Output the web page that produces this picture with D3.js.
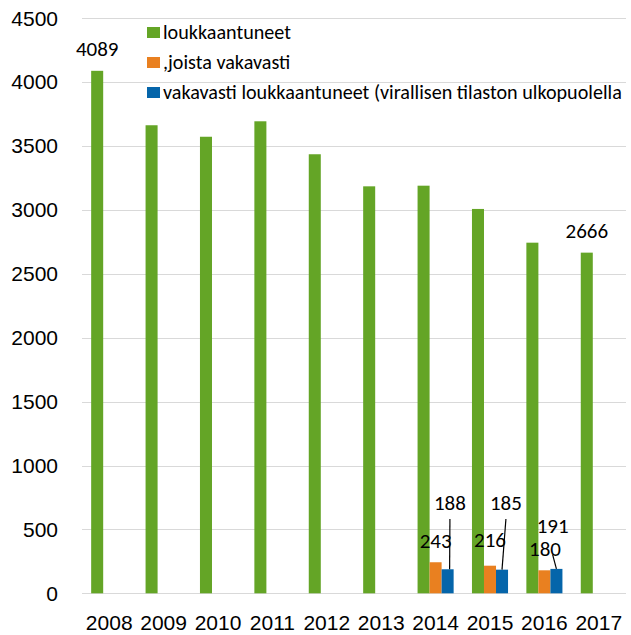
<!DOCTYPE html>
<html>
<head>
<meta charset="utf-8">
<script src="https://cdn.jsdelivr.net/npm/d3@7"></script>
<style>
  body { margin: 0; background: #fff; }
  svg { display: block; font-family: Carlito, Lato, "Open Sans", sans-serif; }
  .grid line { stroke: #d9d9d9; stroke-width: 1; }
  .tick text { fill: #000; }
</style>
</head>
<body>
<svg id="chart"></svg>
<script>
// Data
const years = ['2008', '2009', '2010', '2011', '2012', '2013', '2014', '2015', '2016', '2017'];
const seriesNames = ['loukkaantuneet', ',joista vakavasti', 'vakavasti loukkaantuneet (virallisen tilaston ulkopuolella'];
const injured = [4089, 3663, 3573, 3694, 3436, 3185, 3190, 3008, 2744, 2666];
const severe = [null, null, null, null, null, null, 243, 216, 180, null];
const severeOutside = [null, null, null, null, null, null, 188, 185, 191, null];
const yTicks = [0, 500, 1000, 1500, 2000, 2500, 3000, 3500, 4000, 4500];
const colors = ['#64a526', '#e98020', '#0565aa'];

// which injured values get a label
const injuredLabelled = ['2008', '2017'];

window.addEventListener('load', () => {
    const width = 631, height = 635;
    const plot = { left: 82, right: 626, top: 18.3, bottom: 593.3 };

    const svg = d3.select('#chart')
        .attr('width', width)
        .attr('height', height);

    // Scales
    const x0 = d3.scaleBand()
        .domain(years)
        .range([plot.left, plot.right])
        .padding(0);
    const gap = x0.bandwidth() * 0.337;
    const x1 = d3.scaleBand()
        .domain([0, 1, 2])
        .range([gap / 2, x0.bandwidth() - gap / 2])
        .padding(0);
    const y = d3.scaleLinear()
        .domain([0, 4500])
        .range([plot.bottom, plot.top]);

    // Gridlines
    svg.append('g')
        .attr('class', 'grid')
        .selectAll('line')
        .data(yTicks)
        .join('line')
        .attr('x1', plot.left)
        .attr('x2', plot.right)
        .attr('y1', d => Math.round(y(d)) + 0.5)
        .attr('y2', d => Math.round(y(d)) + 0.5);

    // Y axis
    const yAxis = d3.axisLeft(y).tickValues(yTicks).tickFormat(d3.format('d')).tickSize(0).tickPadding(0);
    svg.append('g')
        .attr('transform', `translate(58,0)`)
        .call(yAxis)
        .call(g => g.select('.domain').remove())
        .selectAll('text')
        .attr('font-size', 21)
        .attr('font-family', null);

    // X axis
    const xAxis = d3.axisBottom(x0).tickSize(0).tickPadding(0);
    svg.append('g')
        .attr('transform', `translate(0,${plot.bottom})`)
        .call(xAxis)
        .call(g => g.select('.domain').remove())
        .selectAll('text')
        .attr('font-size', 21)
        .attr('font-family', null)
        .attr('dy', null)
        .attr('y', 37);

    // Bars
    const allSeries = [injured, severe, severeOutside];
    allSeries.forEach((values, s) => {
        svg.append('g')
            .selectAll('rect')
            .data(years.map((yr, i) => ({ yr, v: values[i] })).filter(d => d.v != null))
            .join('rect')
            .attr('x', d => x0(d.yr) + x1(s))
            .attr('width', x1.bandwidth())
            .attr('y', d => y(d.v))
            .attr('height', d => y(0) - y(d.v))
            .attr('fill', colors[s]);
    });

    const barCenter = (yr, s) => x0(yr) + x1(s) + x1.bandwidth() / 2;
    const labels = svg.append('g').attr('font-size', 21).attr('text-anchor', 'middle');

    // Labels on the green series
    years.forEach((yr, i) => {
        if (!injuredLabelled.includes(yr)) return;
        labels.append('text')
            .attr('x', barCenter(yr, 0))
            .attr('y', y(injured[i]) - 22)
            .attr('dy', '0.35em')
            .text(injured[i]);
    });

    // Orange labels (moved by hand in the original)
    const orangeShift = { '2014': [0, 22], '2015': [0, 25.7], '2016': [0.6, 22] };
    years.forEach((yr, i) => {
        if (severe[i] == null) return;
        const [dx, dy] = orangeShift[yr];
        labels.append('text')
            .attr('x', barCenter(yr, 1) + dx)
            .attr('y', y(severe[i]) - dy)
            .attr('dy', '0.35em')
            .text(severe[i]);
    });

    // Blue labels with leader lines
    const blueShift = { '2014': [2.3, 66.3, 16], '2015': [3.9, 66.7, 16], '2016': [-3.8, 43.2, 29] };
    years.forEach((yr, i) => {
        if (severeOutside[i] == null) return;
        const [dx, dy, lineStart] = blueShift[yr];
        const lx = barCenter(yr, 2) + dx;
        const ly = y(severeOutside[i]) - dy;
        svg.append('line')
            .attr('x1', lx)
            .attr('y1', ly + lineStart)
            .attr('x2', barCenter(yr, 2) + (yr === '2014' ? 2 : 0))
            .attr('y2', y(severeOutside[i]))
            .attr('stroke', '#000')
            .attr('stroke-width', 1.2);
        labels.append('text')
            .attr('x', lx)
            .attr('y', ly)
            .attr('dy', '0.35em')
            .text(severeOutside[i]);
    });

    // Legend
    const legend = svg.append('g').attr('transform', 'translate(147,0)');
    const legendY = [32, 62, 92];
    const items = legend.selectAll('g')
        .data(seriesNames)
        .join('g')
        .attr('transform', (d, i) => `translate(0,${legendY[i]})`);
    items.append('rect')
        .attr('x', 0)
        .attr('y', -5)
        .attr('width', 13)
        .attr('height', 11)
        .attr('fill', (d, i) => colors[i]);
    const legendText = items.append('text')
        .attr('x', 16)
        .attr('dy', '0.35em')
        .attr('font-size', 17)
        .text(d => d);
    // fit the longest entry to the width it has in the original
    const longest = legendText.nodes()[2].getComputedTextLength();
    const fs = 17 * 459 / longest;
    legendText.attr('font-size', fs);
});
</script>
</body>
</html>
